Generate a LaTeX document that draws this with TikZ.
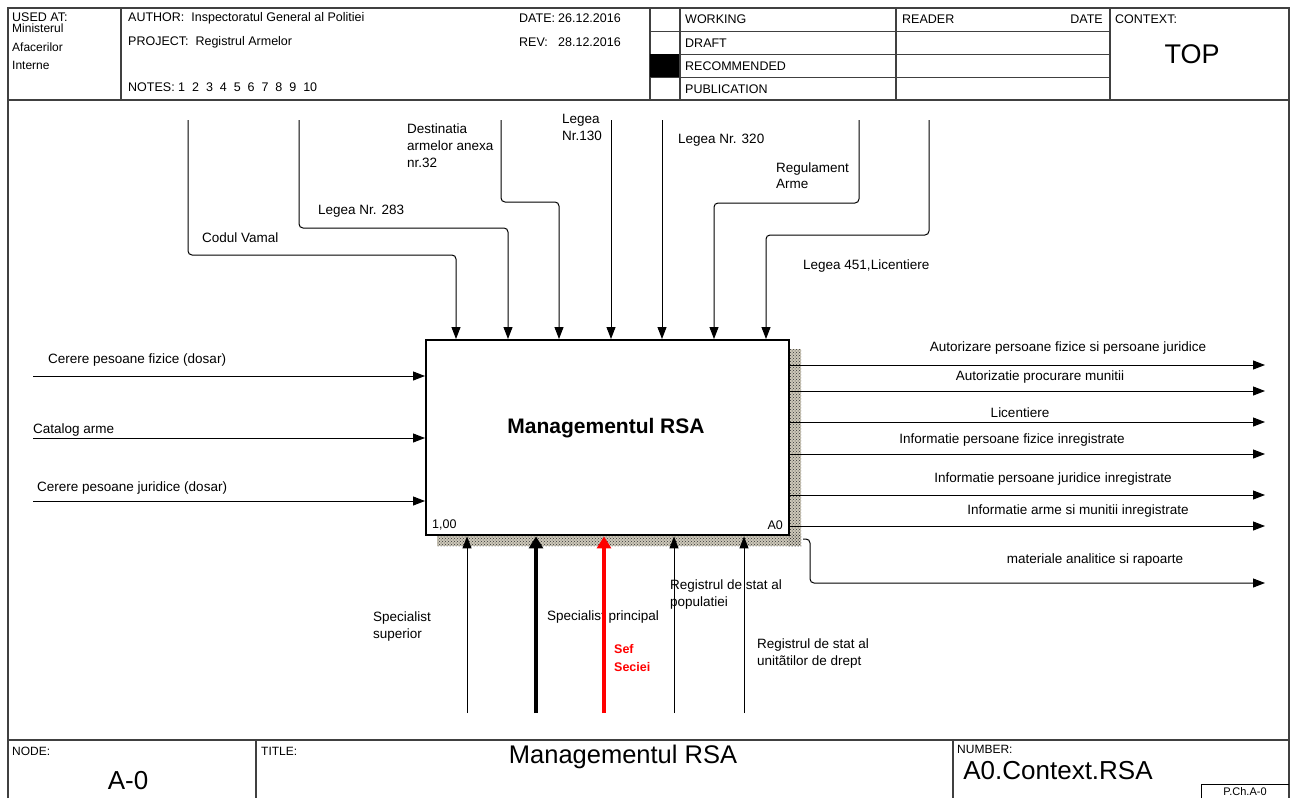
\documentclass[tikz,border=0pt]{standalone}
\usepackage{fontspec}
\setmainfont{Liberation Sans}
\usetikzlibrary{arrows.meta,patterns}
\definecolor{shadowbg}{RGB}{205,200,185}
\begin{document}
\begin{tikzpicture}[x=1pt,y=-1pt,
  frame/.style={line width=1.3pt, draw=black!75},
  hd/.style={inner sep=0pt, anchor=west, font=\fontsize{12.5}{14}\selectfont},
  lb/.style={inner sep=0pt, anchor=west, font=\fontsize{13.5}{16}\selectfont},
  ml/.style={inner sep=0pt, anchor=north west, align=left, font=\fontsize{13.5}{17}\selectfont},
  sm/.style={inner sep=0pt, anchor=west, font=\fontsize{12}{13}\selectfont},
  arr/.style={line width=1pt, -{Triangle[length=12pt,width=9pt]}, rounded corners=4pt},
  thickarr/.style={line width=3.4pt, -{Triangle[length=12pt,width=14pt]}},
]
\useasboundingbox (0,0) rectangle (1290,798);
% ---------------- frame
\draw[frame] (8,798) -- (8,8) -- (1289,8) -- (1289,798);
\draw[frame] (8,100) -- (1289,100);
\draw[frame] (8,740) -- (1289,740);
% header verticals
\draw[frame] (121,8) -- (121,100);
\draw[frame] (650,8) -- (650,100);
\draw[frame] (680,8) -- (680,100);
\draw[frame] (896,8) -- (896,100);
\draw[frame] (1110,8) -- (1110,100);
\foreach \yy in {31,54,77} \draw[line width=1pt, draw=black!75] (650,\yy) -- (1110,\yy);
\fill[black] (650,54) rectangle (679,77);
% header texts
\node[hd] (usedat) at (12,17) {USED AT:};
\node[sm, anchor=north west, align=left, font=\fontsize{12}{18.5}\selectfont] (mai) at (12,24) {Ministerul\\Afacerilor\\Interne};
\node[hd] (author) at (128,18) {AUTHOR:\ \ Inspectoratul General al Politiei};
\node[hd] (project) at (128,42) {PROJECT:\ \ Registrul Armelor};
\node[hd] (notes) at (128,87) {NOTES:\ 1\ \ 2\ \ 3\ \ 4\ \ 5\ \ 6\ \ 7\ \ 8\ \ 9\ \ 10};
\node[hd] (date) at (519,18) {DATE:};
\node[hd] (datev) at (558,18) {26.12.2016};
\node[hd] (rev) at (519,42) {REV:};
\node[hd] (revv) at (558,42) {28.12.2016};
\node[hd] (working) at (685,19) {WORKING};
\node[hd] (draft) at (685,43) {DRAFT};
\node[hd] (recommended) at (685,66) {RECOMMENDED};
\node[hd] (publication) at (685,89) {PUBLICATION};
\node[hd] (reader) at (902,19) {READER};
\node[hd, anchor=east] (rdate) at (1103,19) {DATE};
\node[hd] (context) at (1115,19) {CONTEXT:};
\node[inner sep=0pt, font=\fontsize{27}{30}\selectfont] (top) at (1192,54) {TOP};
% ---------------- footer
\draw[frame] (256,740) -- (256,798);
\draw[frame] (953,740) -- (953,798);
\node[sm] (node) at (12,751) {NODE:};
\node[inner sep=0pt, font=\fontsize{26}{28}\selectfont] (am0) at (128,781) {A-0};
\node[sm] (title) at (261,751) {TITLE:};
\node[inner sep=0pt, font=\fontsize{25.5}{28}\selectfont] (ftitle) at (623,757) {Managementul RSA};
\node[sm] (number) at (957,749) {NUMBER:};
\node[inner sep=0pt, font=\fontsize{26}{28}\selectfont] (num) at (1058,771) {A0.Context.RSA};
\draw[line width=1pt] (1201,798) -- (1201,784) -- (1289,784);
\node[inner sep=0pt, font=\fontsize{11}{12}\selectfont] (pch) at (1245,792) {P.Ch.A-0};
% ---------------- shadow
\fill[shadowbg] (788,349) rectangle (801,546);
\fill[shadowbg] (437,534) rectangle (801,546);
\fill[pattern=crosshatch dots, pattern color=black!80] (788,349) rectangle (801,546);
\fill[pattern=crosshatch dots, pattern color=black!80] (437,534) rectangle (801,546);
% ---------------- main box
\node[draw, line width=2.4pt, fill=white, minimum width=363pt, minimum height=195pt, inner sep=0pt, anchor=north west] (A0) at (425,339) {};
\node[inner sep=0pt, font=\fontsize{21}{24}\selectfont\bfseries] (boxtitle) at (606,428) {Managementul RSA};
\node[sm, font=\fontsize{12.5}{14}\selectfont] (num100) at (432,525) {1,00};
\node[sm, anchor=east, font=\fontsize{12.5}{14}\selectfont] (a0lbl) at (783,525) {A0};
% ---------------- controls (top)
\coordinate (c1) at (188,120);
\coordinate (c2) at (299,120);
\coordinate (c3) at (501,120);
\coordinate (c4) at (611,120);
\coordinate (c5) at (662,120);
\coordinate (c6) at (859,120);
\coordinate (c7) at (929,120);
\draw[arr] (c1) |- (456,255) -- (456,0 |- A0.north);
\draw[arr] (c2) |- (508,228) -- (508,0 |- A0.north);
\draw[arr] (c3) |- (559,202) -- (559,0 |- A0.north);
\draw[arr] (c4) -- (c4 |- A0.north);
\draw[arr] (c5) -- (c5 |- A0.north);
\draw[arr] (c6) |- (714,203) -- (714,0 |- A0.north);
\draw[arr] (c7) |- (766,235) -- (766,0 |- A0.north);
\node[lb] (l1) at (202,238) {Codul Vamal};
\node[lb] (l2) at (318,211) {Legea Nr. 283};
\node[ml] (l3) at (407,124) {Destinatia\\armelor anexa\\nr.32};
\node[ml] (l4) at (562,114) {Legea\\Nr.130};
\node[lb] (l5) at (678,140) {Legea Nr. 320};
\node[ml, font=\fontsize{13.5}{16}\selectfont] (l6) at (776,163) {Regulament\\Arme};
\node[lb] (l7) at (803,266) {Legea 451,Licentiere};
% ---------------- inputs (left)
\coordinate (i1) at (33,376);
\coordinate (i2) at (33,438);
\coordinate (i3) at (33,501);
\draw[arr] (i1) -- (i1 -| A0.west);
\draw[arr] (i2) -- (i2 -| A0.west);
\draw[arr] (i3) -- (i3 -| A0.west);
\node[lb] (in1) at (48,360) {Cerere pesoane fizice (dosar)};
\node[lb] (in2) at (33,430) {Catalog arme};
\node[lb] (in3) at (37,488) {Cerere pesoane juridice (dosar)};
% ---------------- outputs (right)
\coordinate (o1) at (1265,365);
\coordinate (o2) at (1265,391);
\coordinate (o3) at (1265,422);
\coordinate (o4) at (1265,454);
\coordinate (o5) at (1265,495);
\coordinate (o6) at (1265,526);
\coordinate (o7) at (1265,583);
\draw[arr] (o1 -| A0.east) -- (o1);
\draw[arr] (o2 -| A0.east) -- (o2);
\draw[arr] (o3 -| A0.east) -- (o3);
\draw[arr] (o4 -| A0.east) -- (o4);
\draw[arr] (o5 -| A0.east) -- (o5);
\draw[arr] (o6 -| A0.east) -- (o6);
\draw[arr] (803,539) -| (810,583) -- (o7);
\node[lb, anchor=center] (out1) at (1068,348) {Autorizare persoane fizice si persoane juridice};
\node[lb, anchor=center] (out2) at (1040,377) {Autorizatie procurare munitii};
\node[lb, anchor=center] (out3) at (1020,413) {Licentiere};
\node[lb, anchor=center] (out4) at (1012,440) {Informatie persoane fizice inregistrate};
\node[lb, anchor=center] (out5) at (1053,479) {Informatie persoane juridice inregistrate};
\node[lb, anchor=center] (out6) at (1078,511) {Informatie arme si munitii inregistrate};
\node[lb, anchor=center] (out7) at (1095,560) {materiale analitice si rapoarte};
% ---------------- mechanisms (bottom)
\coordinate (m1) at (467,713);
\coordinate (m2) at (536,713);
\coordinate (m3) at (604,713);
\coordinate (m4) at (674,713);
\coordinate (m5) at (744,713);
\node[ml] (mech1) at (373,612) {Specialist\\superior};
\node[lb] (mech2) at (547,617) {Specialist principal};
\node[ml] (mech4) at (670,580) {Registrul de stat al\\populatiei};
\node[ml] (mech5) at (757,639) {Registrul de stat al\\unitãtilor de drept};
\node[ml, text=red, font=\fontsize{12.5}{18}\selectfont\bfseries] (mech3) at (614,644) {Sef\\Seciei};
\draw[arr] (m1) -- (m1 |- A0.south);
\draw[thickarr] (m2) -- (m2 |- A0.south);
\draw[thickarr, red] (m3) -- (m3 |- A0.south);
\draw[arr] (m4) -- (m4 |- A0.south);
\draw[arr] (m5) -- (m5 |- A0.south);
\end{tikzpicture}
\end{document}
